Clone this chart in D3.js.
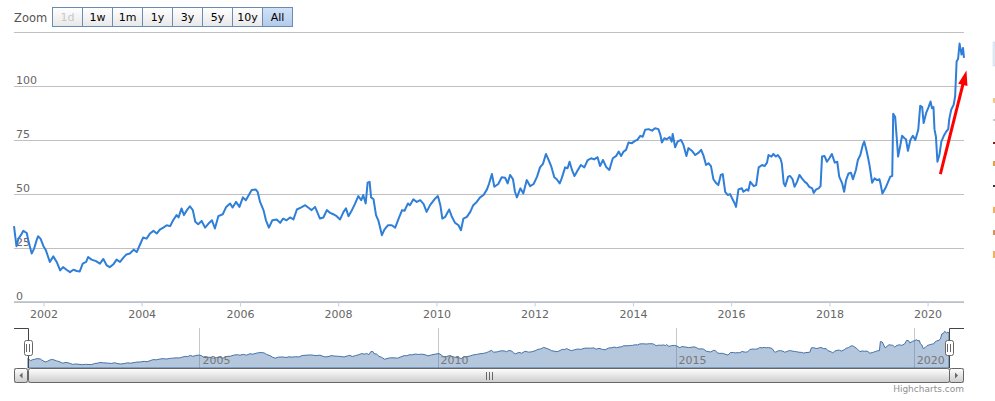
<!DOCTYPE html>
<html><head><meta charset="utf-8">
<script src="https://cdn.jsdelivr.net/npm/d3@7"></script>
<style>
body{margin:0;background:#fff}
svg{display:block;font-family:"DejaVu Sans",Verdana,sans-serif}
</style>
</head><body>
<svg id="c" width="995" height="401"></svg>
<script>
// ---- data (decimal years) ----
const dates = [
2001.40,2001.45,2001.49,2001.54,2001.59,2001.66,2001.69,2001.76,2001.81,2001.86,2001.89,2001.94,
2002.00,2002.05,2002.13,2002.20,2002.27,2002.34,2002.40,2002.47,2002.54,2002.61,2002.68,2002.74,
2002.80,2002.87,2002.91,2002.98,2003.07,2003.15,2003.22,2003.29,2003.35,2003.42,2003.49,2003.56,
2003.63,2003.69,2003.76,2003.84,2003.90,2003.97,2004.03,2004.10,2004.17,2004.24,2004.31,2004.37,
2004.44,2004.51,2004.58,2004.64,2004.71,2004.75,2004.81,2004.86,2004.92,2004.98,2005.04,2005.09,
2005.15,2005.22,2005.29,2005.36,2005.43,2005.49,2005.56,2005.65,2005.72,2005.80,2005.85,2005.92,
2005.99,2006.06,2006.12,2006.19,2006.24,2006.32,2006.36,2006.41,2006.48,2006.53,2006.59,2006.66,
2006.75,2006.82,2006.88,2006.95,2007.02,2007.09,2007.16,2007.24,2007.33,2007.39,2007.46,2007.53,
2007.63,2007.70,2007.77,2007.84,2007.90,2007.97,2008.04,2008.11,2008.16,2008.21,2008.28,2008.34,
2008.41,2008.47,2008.51,2008.56,2008.60,2008.64,2008.67,2008.72,2008.77,2008.82,2008.85,2008.89,
2008.94,2009.01,2009.09,2009.16,2009.23,2009.30,2009.35,2009.42,2009.46,2009.53,2009.60,2009.67,
2009.74,2009.80,2009.87,2009.96,2010.03,2010.08,2010.12,2010.18,2010.26,2010.31,2010.38,2010.45,
2010.50,2010.55,2010.62,2010.69,2010.75,2010.82,2010.89,2010.96,2011.03,2011.07,2011.13,2011.18,
2011.26,2011.33,2011.40,2011.45,2011.50,2011.56,2011.60,2011.64,2011.71,2011.77,2011.84,2011.91,
2011.98,2012.05,2012.11,2012.17,2012.23,2012.28,2012.34,2012.40,2012.45,2012.51,2012.55,2012.62,
2012.67,2012.71,2012.76,2012.81,2012.87,2012.94,2013.01,2013.08,2013.15,2013.21,2013.28,2013.33,
2013.39,2013.46,2013.52,2013.59,2013.66,2013.71,2013.76,2013.81,2013.86,2013.91,2013.98,2014.05,
2014.09,2014.15,2014.20,2014.25,2014.32,2014.39,2014.45,2014.52,2014.56,2014.59,2014.64,2014.69,
2014.75,2014.79,2014.81,2014.86,2014.91,2014.98,2015.03,2015.09,2015.13,2015.20,2015.27,2015.34,
2015.39,2015.44,2015.49,2015.54,2015.59,2015.64,2015.70,2015.74,2015.79,2015.83,2015.88,2015.93,
2015.98,2016.04,2016.08,2016.10,2016.15,2016.22,2016.25,2016.32,2016.35,2016.39,2016.46,2016.51,
2016.56,2016.63,2016.68,2016.73,2016.76,2016.82,2016.86,2016.91,2016.95,2017.00,2017.03,2017.07,
2017.10,2017.16,2017.20,2017.25,2017.29,2017.34,2017.39,2017.44,2017.50,2017.54,2017.59,2017.65,
2017.68,2017.73,2017.78,2017.82,2017.85,2017.90,2017.95,2018.00,2018.05,2018.11,2018.16,2018.20,
2018.26,2018.30,2018.34,2018.39,2018.44,2018.48,2018.54,2018.58,2018.63,2018.68,2018.71,2018.75,
2018.79,2018.82,2018.87,2018.92,2018.97,2019.02,2019.04,2019.08,2019.14,2019.19,2019.24,2019.28,
2019.30,2019.34,2019.40,2019.44,2019.48,2019.53,2019.56,2019.60,2019.65,2019.70,2019.75,2019.81,
2019.85,2019.89,2019.92,2019.97,2020.02,2020.06,2020.09,2020.12,2020.14,2020.17,2020.20,2020.24,
2020.28,2020.33,2020.38,2020.42,2020.44,2020.48,2020.53,2020.56,2020.59,2020.62,2020.65,2020.69,
2020.72,2020.74
];
const values = [
34.9,25.6,29.1,30.7,32.7,31.7,28.3,22.2,24.5,28.3,30.2,29.1,
25.6,23.7,18.3,20.9,18.3,14.4,15.9,14.7,13.6,14.7,14.1,13.9,
17.5,18.3,20.6,19.4,18.7,17.5,19.7,16.7,15.9,17.1,19.4,18.3,
20.3,21.8,22.2,24.0,22.9,26.5,29.6,29.1,31.5,32.7,31.5,33.3,
34.2,35.3,34.9,37.6,40.0,38.9,43.1,40.0,42.3,44.1,42.3,36.9,
35.8,37.3,34.2,36.1,37.6,33.8,39.5,40.4,43.8,45.4,43.5,46.1,
43.8,48.2,46.9,49.7,51.6,51.9,50.8,46.1,42.3,37.6,34.2,37.6,
38.0,36.4,38.4,37.6,38.9,38.0,42.6,43.5,44.6,43.5,42.3,43.8,
38.4,38.9,42.3,41.0,40.4,39.5,38.0,41.5,43.1,39.5,42.3,45.1,
48.8,46.9,49.3,45.4,55.0,55.4,48.2,47.3,40.0,37.3,34.5,30.7,
33.3,35.3,35.3,34.2,38.4,42.3,42.0,45.4,44.6,47.3,46.1,46.9,
45.1,41.5,44.6,47.3,48.8,44.6,38.4,39.2,42.6,39.5,36.4,35.3,
33.0,38.4,39.2,41.5,44.6,46.1,48.2,49.3,51.9,54.4,59.0,53.1,
54.4,57.5,57.3,54.7,58.6,56.6,50.8,48.2,52.4,50.0,56.2,53.4,
54.4,57.8,62.1,63.7,68.3,65.8,62.4,57.5,56.6,54.7,57.0,62.1,
61.7,64.7,60.9,58.1,60.5,63.2,62.1,65.5,66.3,65.8,66.8,62.7,
65.5,62.1,60.9,66.3,67.4,69.4,67.4,69.4,70.2,73.6,73.3,74.5,
74.8,76.7,76.3,79.5,79.8,79.1,80.2,79.8,77.1,73.6,75.6,75.1,
76.1,74.0,77.6,71.4,74.0,74.8,72.5,67.4,71.0,69.8,67.8,68.9,
70.2,67.4,63.2,64.0,62.7,56.6,54.7,53.9,58.6,59.0,50.8,49.3,
49.7,46.9,45.1,43.8,51.9,52.4,50.8,51.9,51.3,55.4,53.4,53.9,
62.1,63.2,62.7,64.3,67.8,67.1,68.3,67.1,67.8,66.3,64.0,54.7,
53.4,57.8,58.1,56.6,53.1,55.4,58.6,57.0,55.4,54.7,53.1,52.4,
50.3,51.9,52.4,53.4,67.1,67.4,64.7,66.3,68.3,64.3,64.7,57.8,
54.7,50.8,56.2,59.3,59.6,56.6,60.9,65.5,67.8,72.5,74.0,70.5,
66.3,62.7,55.0,57.0,56.2,56.6,54.7,50.0,52.4,55.0,57.8,58.1,
86.9,85.4,67.1,71.7,76.7,75.6,75.1,69.8,74.8,76.7,74.8,79.5,
90.6,90.0,82.6,87.2,90.0,92.6,89.5,90.0,79.8,76.3,64.7,67.8,
74.0,76.7,78.7,79.8,84.4,88.8,91.1,94.9,111.2,112.3,119.4,114.3,
117.4,112.8
];
const yTicks = [0, 25, 50, 75, 100, 125];
const yTickLabels = ["0", "25", "50", "75", "100", ""];
const xTickYears = [2002, 2004, 2006, 2008, 2010, 2012, 2014, 2016, 2018, 2020];
const navTickYears = [2005, 2010, 2015, 2020];
const zoomButtons = ["1d", "1w", "1m", "1y", "3y", "5y", "10y", "All"];
const selectedButton = "All";
const disabledButton = "1d";
const arrowFrom = {t: 2020.26, v: 59};
const arrowTo = {t: 2020.79, v: 107};

// ---- helpers ----
function toDate(t) {
  const y = Math.floor(t);
  const s = Date.UTC(y, 0, 1), e = Date.UTC(y + 1, 0, 1);
  return new Date(s + (t - y) * (e - s));
}
const data = dates.map((t, i) => ({d: toDate(t), v: values[i]}));

const svg = d3.select("#c");
const defs = svg.append("defs");
function vgrad(id, c0, c1) {
  const g = defs.append("linearGradient").attr("id", id).attr("x1", 0).attr("y1", 0).attr("x2", 0).attr("y2", 1);
  g.append("stop").attr("offset", "0%").attr("stop-color", c0);
  g.append("stop").attr("offset", "100%").attr("stop-color", c1);
}
vgrad("btn", "#ffffff", "#e8e8e8");
vgrad("btnSel", "#d2e2f6", "#b2cbeb");
vgrad("bar", "#ffffff", "#cccccc");
vgrad("track", "#eeeeee", "#ffffff");

const L = 14, R = 964;
const x = d3.scaleUtc().domain(d3.extent(data, d => d.d)).range([L, R]);
const y = d3.scaleLinear().domain([0, 125]).range([301.5, 31.5]);

// ---- grid ----
const grid = svg.append("g");
grid.selectAll("line").data(yTicks).join("line")
  .attr("x1", L).attr("x2", R)
  .attr("y1", d => Math.round(y(d)) + 0.5).attr("y2", d => Math.round(y(d)) + 0.5)
  .attr("stroke", "#c0c0c0").attr("stroke-width", 1);
svg.append("g").selectAll("text").data(yTicks).join("text")
  .attr("x", 16).attr("y", d => Math.round(y(d)) - 2.5)
  .attr("font-size", 11).attr("fill", "#666")
  .text((d, i) => yTickLabels[i]);

// ---- x axis ----
const xAxis = d3.axisBottom(x)
  .tickValues(xTickYears.map(yr => toDate(yr)))
  .tickFormat(d3.utcFormat("%Y"))
  .tickSize(5).tickPadding(4);
const gx = svg.append("g").attr("transform", "translate(0,301.5)").call(xAxis);
gx.select(".domain").attr("stroke", "#c0d0e0").attr("d", `M${L},0H${R}`);
gx.selectAll(".tick line").attr("stroke", "#c0d0e0");
gx.selectAll(".tick text").attr("font-size", 11).attr("fill", "#666")
  .attr("font-family", "DejaVu Sans, Verdana, sans-serif");

// ---- main series ----
svg.append("path").datum(data)
  .attr("fill", "none").attr("stroke", "#2f7ed8").attr("stroke-width", 2)
  .attr("stroke-linejoin", "round")
  .attr("d", d3.line().x(d => x(d.d)).y(d => y(d.v)));

// ---- arrow annotation ----
{
  const x0 = x(toDate(arrowFrom.t)), y0 = y(arrowFrom.v);
  const x1 = x(toDate(arrowTo.t)), y1 = y(arrowTo.v);
  const dx = x1 - x0, dy = y1 - y0, len = Math.hypot(dx, dy);
  const ux = dx / len, uy = dy / len, hl = 15, hw = 4.8;
  const bx = x1 - ux * hl, by = y1 - uy * hl;
  svg.append("line").attr("x1", x0).attr("y1", y0).attr("x2", bx + ux * 2).attr("y2", by + uy * 2)
    .attr("stroke", "#ff0000").attr("stroke-width", 3);
  svg.append("path").attr("fill", "#ff0000")
    .attr("d", `M${x1},${y1}L${bx - uy * hw},${by + ux * hw}L${bx + uy * hw},${by - ux * hw}Z`);
}

// ---- navigator ----
const NT = 328, NB = 368, NL = 28, NR = 949;
const xn = d3.scaleUtc().domain(x.domain()).range([NL, NR]);
const [mn, mx] = d3.extent(values);
const pad = (mx - mn) * 0.1;
const yn = d3.scaleLinear().domain([mn - pad, mx + pad]).range([NB, NT]);
svg.append("g").selectAll("line").data(navTickYears).join("line")
  .attr("x1", d => Math.round(xn(toDate(d))) + 0.5).attr("x2", d => Math.round(xn(toDate(d))) + 0.5)
  .attr("y1", NT).attr("y2", NB).attr("stroke", "#c8c8c8");
svg.append("path").datum(data)
  .attr("fill", "rgba(69,114,167,0.4)").attr("stroke", "#4572a7").attr("stroke-width", 1)
  .attr("d", d3.area().x(d => xn(d.d)).y0(NB).y1(d => yn(d.v)));
svg.append("g").selectAll("text").data(navTickYears).join("text")
  .attr("x", d => xn(toDate(d)) + 3).attr("y", NB - 4)
  .attr("font-size", 11).attr("fill", "#777").text(d => d);

// outline
svg.append("path").attr("fill", "none").attr("stroke", "#444").attr("stroke-width", 1)
  .attr("d", `M${L},${NT + 0.5}H${NL + 0.5}V${NB}M${NR + 0.5},${NB}V${NT + 0.5}H${R}`);

// ---- scrollbar ----
const ST = 368, SH = 14;
svg.append("rect").attr("x", L + 0.5).attr("y", ST + 0.5).attr("width", R - L - 1).attr("height", SH)
  .attr("fill", "url(#track)").attr("stroke", "#ccc");
svg.append("rect").attr("x", NL + 0.5).attr("y", ST + 0.5).attr("width", NR - NL).attr("height", SH)
  .attr("rx", 2).attr("fill", "url(#bar)").attr("stroke", "#666");
[[L, -1], [NR, 1]].forEach(([bx, dir]) => {
  const w = (bx === L ? NL - L : R - NR);
  svg.append("rect").attr("x", bx + 0.5).attr("y", ST + 0.5).attr("width", w - 1).attr("height", SH)
    .attr("rx", 2).attr("fill", "url(#bar)").attr("stroke", "#666");
  const cx = bx + w / 2, cy = ST + SH / 2 + 0.5;
  svg.append("path").attr("fill", "#666")
    .attr("d", dir < 0 ? `M${cx - 1.5},${cy}L${cx + 1.5},${cy - 3}L${cx + 1.5},${cy + 3}Z`
                       : `M${cx + 1.5},${cy}L${cx - 1.5},${cy - 3}L${cx - 1.5},${cy + 3}Z`);
});
{
  const cx = Math.round((NL + NR) / 2) + 0.5;
  [-3, 0, 3].forEach(o => svg.append("line").attr("x1", cx + o).attr("x2", cx + o)
    .attr("y1", ST + 4).attr("y2", ST + SH - 2).attr("stroke", "#666"));
}

// handles
[NL, NR].forEach(hx => {
  const cx = Math.round(hx);
  svg.append("rect").attr("x", cx - 3.5).attr("y", 340.5).attr("width", 8).attr("height", 15)
    .attr("rx", 2).attr("fill", "#fff").attr("stroke", "#666");
  [-1, 2].forEach(o => svg.append("line").attr("x1", cx + o - 0.5).attr("x2", cx + o - 0.5)
    .attr("y1", 344).attr("y2", 352).attr("stroke", "#666"));
});

// ---- range selector ----
svg.append("text").attr("x", 14).attr("y", 22).attr("font-size", 11.5).attr("fill", "#555").text("Zoom");
const bx0 = 52.5, bw = 30;
const bg = svg.append("g").selectAll("g").data(zoomButtons).join("g")
  .attr("transform", (d, i) => `translate(${bx0 + i * bw},7.5)`);
bg.append("rect").attr("width", bw).attr("height", 19)
  .attr("fill", d => d === selectedButton ? "url(#btnSel)" : "url(#btn)")
  .attr("stroke", "#6a8cb4");
bg.append("text").attr("x", bw / 2).attr("y", 13.5).attr("text-anchor", "middle")
  .attr("font-size", 11).attr("fill", d => d === disabledButton ? "#c8c8c8" : "#000").text(d => d);

// ---- credits ----
svg.append("text").attr("x", R).attr("y", 392).attr("text-anchor", "end")
  .attr("font-size", 9).attr("fill", "#909090").text("Highcharts.com");

// ---- clipped neighbour element at the right edge ----
const edge = svg.append("g");
edge.append("rect").attr("x", 993).attr("y", 42).attr("width", 2).attr("height", 24)
  .attr("fill", "#e6eef8").attr("stroke", "#c5d5ea").attr("stroke-width", 0.5);
[[98, 5, "#f2c88a"], [119, 2, "#cccccc"], [142, 2, "#7a2020"], [161, 5, "#e0a050"],
 [185, 2, "#333"], [207, 6, "#f0b060"], [230, 5, "#d89060"], [251, 7, "#f0b060"]]
  .forEach(([yy, h, c]) => edge.append("rect").attr("x", 993).attr("y", yy).attr("width", 2)
    .attr("height", h).attr("fill", c));
</script>
</body></html>
